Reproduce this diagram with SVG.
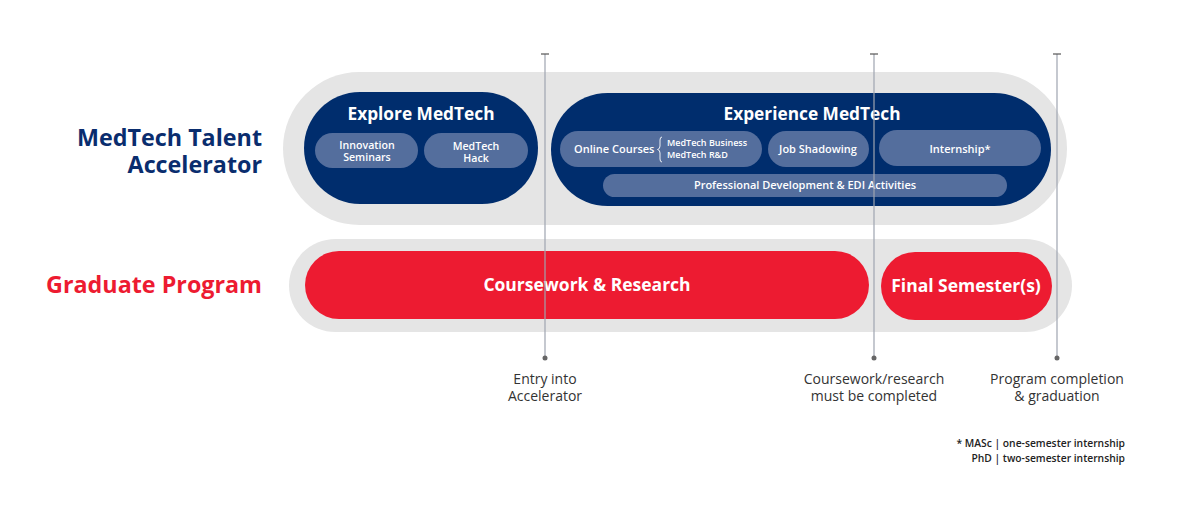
<svg xmlns="http://www.w3.org/2000/svg" width="1190" height="509" viewBox="0 0 1190 509">
<style>
.grey{fill:#e5e5e5}
.navy{fill:#002d6d}
.sub{fill:#546e9d}
.red{fill:#ed1b31}
.t{font-family:"Open Sans","Liberation Sans",sans-serif}
.w{fill:#ffffff;text-anchor:middle}
.h{font-size:17.3px;font-weight:700}
.s{font-size:11px;font-weight:600}
.s2{font-size:10.6px;font-weight:600}
.xs{font-size:9px;font-weight:600}
.big{font-size:17.5px;font-weight:700}
.lbl{font-size:23.3px;font-weight:700;text-anchor:end}
.ms{font-size:14px;fill:#333;text-anchor:middle}
.fn{font-size:10.3px;font-weight:600;fill:#222;text-anchor:end}
.vl{stroke:#9ea4b0;stroke-width:1.2;fill:none}
.tk{stroke:#555;stroke-width:1.2}
.dot{fill:#666}
</style>
<g id="labels">
<text class="t lbl" x="262" y="146" fill="#0a2d6e">MedTech Talent</text>
<text class="t lbl" x="262" y="172.5" fill="#0a2d6e">Accelerator</text>
<text class="t lbl" x="262" y="293" fill="#ed1b31">Graduate Program</text>
</g>
<g id="accelerator-band"><rect class="grey" x="283" y="72" width="784" height="153" rx="76.5"/></g>
<g id="graduate-band"><rect class="grey" x="289" y="239" width="783" height="93" rx="46.5"/></g>
<g id="explore">
<rect class="navy" x="304" y="92" width="234" height="112" rx="56"/>
<text class="t w h" x="421" y="120">Explore MedTech</text>
</g>
<g id="innovation-seminars">
<rect class="sub" x="315" y="133" width="103" height="35" rx="17.5"/>
<text class="t w s2" x="367" y="148.5">Innovation</text>
<text class="t w s2" x="367" y="161">Seminars</text>
</g>
<g id="medtech-hack">
<rect class="sub" x="424" y="133" width="104" height="35" rx="17.5"/>
<text class="t w s2" x="476" y="149.5">MedTech</text>
<text class="t w s2" x="476" y="162">Hack</text>
</g>
<g id="experience">
<rect class="navy" x="551" y="93" width="500" height="113" rx="56.5"/>
<text class="t w h" x="812" y="120">Experience MedTech</text>
</g>
<g id="online-courses">
<rect class="sub" x="560" y="131" width="202" height="36" rx="18"/>
<text class="t s" x="574" y="153" fill="#fff">Online Courses</text>
<path d="M662,137 q-2,0 -2,3 v6 q0,3 -2.5,3.5 q2.5,0.5 2.5,3.5 v6 q0,3 2,3" fill="none" stroke="#fff" stroke-width="0.9"/>
<text class="t xs" x="667" y="146" fill="#fff">MedTech Business</text>
<text class="t xs" x="667" y="158" fill="#fff">MedTech R&amp;D</text>
</g>
<g id="job-shadowing">
<rect class="sub" x="768" y="131" width="101" height="36" rx="18"/>
<text class="t w s" x="818" y="153">Job Shadowing</text>
</g>
<g id="internship">
<rect class="sub" x="879" y="130" width="162" height="36" rx="18"/>
<text class="t w s" x="960" y="153">Internship*</text>
</g>
<g id="professional-development">
<rect class="sub" x="603" y="174" width="404" height="23" rx="11.5"/>
<text class="t w s" x="805" y="189">Professional Development &amp; EDI Activities</text>
</g>
<g id="coursework-research">
<rect class="red" x="305" y="251" width="564" height="68" rx="34"/>
<text class="t w big" x="587" y="291">Coursework &amp; Research</text>
</g>
<g id="final-semesters">
<rect class="red" x="881" y="252" width="171" height="68" rx="34"/>
<text class="t w big" x="966" y="292">Final Semester(s)</text>
</g>
<g id="connectors">
<line class="vl" x1="545" y1="54" x2="545" y2="357"/>
<line class="vl" x1="874" y1="54" x2="874" y2="357"/>
<line class="vl" x1="1057" y1="54" x2="1057" y2="357"/>
<line class="tk" x1="541" y1="54" x2="549" y2="54"/>
<line class="tk" x1="870" y1="54" x2="878" y2="54"/>
<line class="tk" x1="1053" y1="54" x2="1061" y2="54"/>
<circle class="dot" cx="545" cy="358" r="2.5"/>
<circle class="dot" cx="874" cy="358" r="2.5"/>
<circle class="dot" cx="1057" cy="358" r="2.5"/>
</g>
<g id="milestones">
<text class="t ms" x="545" y="384">Entry into</text>
<text class="t ms" x="545" y="401">Accelerator</text>
<text class="t ms" x="874" y="384">Coursework/research</text>
<text class="t ms" x="874" y="401">must be completed</text>
<text class="t ms" x="1057" y="384">Program completion</text>
<text class="t ms" x="1057" y="401">&amp; graduation</text>
</g>
<g id="footnote">
<text class="t fn" x="1125" y="447">* MASc | one-semester internship</text>
<text class="t fn" x="1125" y="462">PhD | two-semester internship</text>
</g>
</svg>
